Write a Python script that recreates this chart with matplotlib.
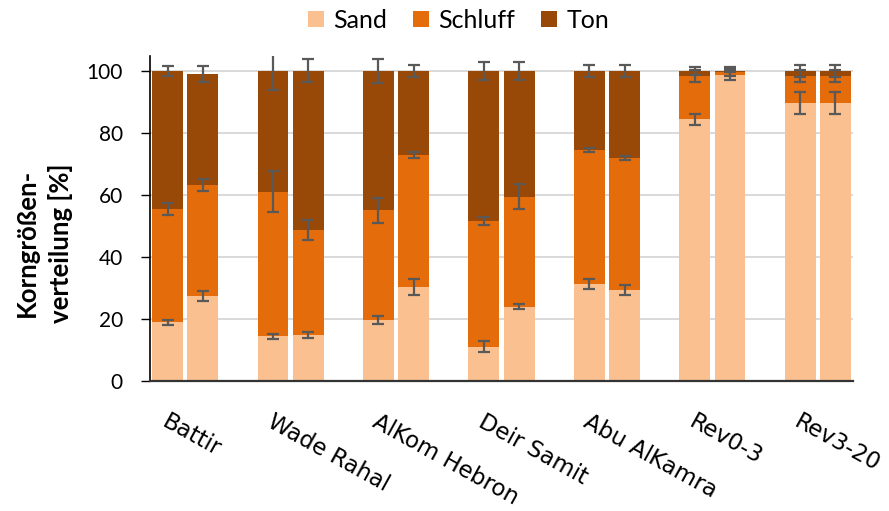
import matplotlib
matplotlib.use("Agg")
import matplotlib.pyplot as plt
from matplotlib.lines import Line2D
from matplotlib.transforms import offset_copy
import numpy as np

# Sites, each with two soil samples
sites = ["Battir", "Wade Rahal", "AlKom Hebron", "Deir Samit",
         "Abu AlKamra", "Rev0-3", "Rev3-20"]

# Grain size fractions [%], two samples per site
sand = [19.0, 27.4, 14.5, 14.9, 19.7, 30.3, 11.1, 24.0,
        31.3, 29.3, 84.4, 98.7, 89.6, 89.6]
schluff = [36.5, 35.8, 46.6, 33.8, 35.4, 42.6, 40.5, 35.4,
           43.3, 42.6, 14.0, 1.1, 8.8, 8.8]
ton = [44.5, 35.8, 38.9, 51.3, 44.9, 27.1, 48.4, 40.6,
       25.4, 28.1, 1.6, 0.2, 1.6, 1.6]

# Standard deviations [%]
sand_err = [0.8, 1.5, 0.8, 0.9, 1.2, 2.5, 1.7, 0.9,
            1.5, 1.5, 1.8, 1.6, 3.5, 3.5]
schluff_err = [1.9, 1.8, 6.5, 3.1, 4.0, 0.9, 1.3, 4.0,
               0.6, 0.6, 2.0, 1.6, 1.9, 1.9]
ton_err = [1.7, 2.6, 6.1, 3.7, 3.9, 1.9, 3.0, 3.0,
           1.9, 1.9, 1.3, 0.5, 1.9, 1.9]

series_names = ["Sand", "Schluff", "Ton"]
colors = ["#FAC090", "#E46C0A", "#984807"]
yticks = [0, 20, 40, 60, 80, 100]

UI_FONT = "Lato"

fig = plt.figure(figsize=(8.89, 5.11), dpi=100)
ax = fig.add_axes([150 / 889, 130 / 511, 703 / 889, 325 / 511])

# Two bars per site followed by an empty slot
n_sites = len(sites)
slots = []
for g in range(n_sites):
    slots += [3 * g + 0.5, 3 * g + 1.5]
x = np.array(slots)
bar_w = 0.88

layers = [np.array(sand), np.array(schluff), np.array(ton)]
errs = [np.array(sand_err), np.array(schluff_err), np.array(ton_err)]

bottom = np.zeros(len(x))
tops = []
for vals, col in zip(layers, colors):
    ax.bar(x, vals, width=bar_w, bottom=bottom, color=col, zorder=2,
           linewidth=0)
    bottom = bottom + vals
    tops.append(bottom.copy())

for top, err in zip(tops, errs):
    ax.errorbar(x, top, yerr=err, fmt="none", ecolor="#595959",
                elinewidth=1.6, capsize=4.3, capthick=1.6, zorder=3)

ax.set_xlim(0, 3 * n_sites - 1)
ax.set_ylim(0, 104.8)
ax.set_yticks(yticks)
ax.set_yticklabels([str(v) for v in yticks], fontsize=15, family=UI_FONT)
ax.yaxis.grid(True, color="#d9d9d9", linewidth=1.4, zorder=0)
ax.set_axisbelow(True)
ax.tick_params(axis="y", direction="out", length=6.5, width=1.0,
               pad=13, color="#000000")
ax.set_xticks([])

for side in ["top", "right"]:
    ax.spines[side].set_visible(False)
ax.spines["left"].set_linewidth(1.2)
ax.spines["bottom"].set_linewidth(1.6)
ax.spines["bottom"].set_color("#333333")

# Site labels, slanted under each pair of bars
lab_tr = offset_copy(ax.get_xaxis_transform(), fig=fig, x=-16, y=-29,
                     units="dots")
for g, name in enumerate(sites):
    ax.text(3 * g + 1.0, 0, name, transform=lab_tr, rotation=-29,
            rotation_mode="anchor", ha="left", va="top", fontsize=16.5,
            family="DejaVu Sans")

fig.text(44 / 889, 1 - 243 / 511, "Korngrößen-\nverteilung [%]",
         rotation=90, ha="center", va="center", multialignment="center",
         fontsize=18.5, fontweight="bold", family=UI_FONT, linespacing=1.45)

handles = [Line2D([], [], marker="s", linestyle="none", markersize=12,
                  markerfacecolor=c, markeredgewidth=0) for c in colors]
fig.legend(handles, series_names, loc="center", ncol=3,
           bbox_to_anchor=(458 / 889, 1 - 20 / 511), frameon=False,
           prop={"family": UI_FONT, "size": 18}, handlelength=0.7,
           handletextpad=0.35, columnspacing=1.0)

fig.savefig("out.png", dpi=100)
